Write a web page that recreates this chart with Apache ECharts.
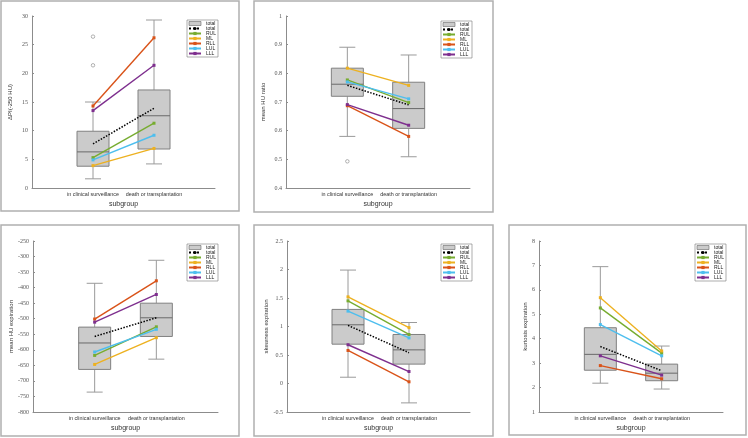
<!DOCTYPE html>
<html>
<head>
<meta charset="utf-8">
<script src="https://cdn.jsdelivr.net/npm/echarts@6/dist/echarts.min.js"></script>
<style>
  html, body { margin: 0; padding: 0; background: #fff; }
  #chart { width: 748px; height: 438px; }
</style>
</head>
<body>
<div id="chart"></div>
<script>
const categories = ['in clinical surveillance', 'death or transplantation'];
const lobes = ['RUL', 'ML', 'RLL', 'LUL', 'LLL'];
const lobeColors = ['#77ac30', '#edb120', '#d95319', '#4dbeee', '#7e2f8e'];

// box stats per group: [low whisker, Q1, median, Q3, high whisker]
const piBox = [[1.6, 3.8, 6.3, 9.9, 15.0], [4.2, 6.8, 12.6, 17.1, 29.3]];
const piOutliers = [26.4, 21.4];
const piTotal = [7.7, 13.9];
const piLobes = [[5.3, 11.3], [3.9, 6.9], [14.3, 26.2], [4.9, 9.2], [13.5, 21.4]];

const ratioBox = [[0.58, 0.72, 0.762, 0.818, 0.891], [0.509, 0.608, 0.677, 0.769, 0.864]];
const ratioOutliers = [0.493];
const ratioTotal = [0.758, 0.69];
const ratioLobes = [[0.777, 0.698], [0.818, 0.758], [0.687, 0.58], [0.77, 0.711], [0.691, 0.619]];

const huBox = [[-736, -663, -578, -527, -386], [-630, -557, -497, -450, -312]];
const huOutliers = [];
const huTotal = [-557, -497];
const huLobes = [[-618, -526], [-647, -561], [-501, -378], [-607, -534], [-511, -422]];

const skewBox = [[0.11, 0.69, 1.03, 1.30, 1.99], [-0.34, 0.34, 0.59, 0.86, 1.07]];
const skewOutliers = [];
const skewTotal = [1.02, 0.54];
const skewLobes = [[1.45, 0.86], [1.52, 0.98], [0.58, 0.03], [1.27, 0.80], [0.68, 0.21]];

const kurtBox = [[2.18, 2.71, 3.36, 4.45, 6.95], [1.94, 2.28, 2.59, 2.96, 3.70]];
const kurtOutliers = [];
const kurtTotal = [3.68, 2.69];
const kurtLobes = [[5.26, 3.41], [5.68, 3.50], [2.90, 2.36], [4.58, 3.30], [3.30, 2.51]];

const yTitles = ['ΔPI(-250 HU)', 'mean HU ratio', 'mean HU expiration', 'skewness expiration', 'kurtosis expiration'];
// [min, max, interval]
const yRanges = [[0, 30, 5], [0.4, 1, 0.1], [-800, -250, 50], [-0.5, 2.5, 0.5], [1, 8, 1]];

const boxes = [piBox, ratioBox, huBox, skewBox, kurtBox];
const outliers = [piOutliers, ratioOutliers, huOutliers, skewOutliers, kurtOutliers];
const totals = [piTotal, ratioTotal, huTotal, skewTotal, kurtTotal];
const lobeLines = [piLobes, ratioLobes, huLobes, skewLobes, kurtLobes];

// layout
const frames = [[1, 1, 238, 210], [254, 1, 239, 211], [1, 225, 238, 211], [254, 225, 239, 211], [509, 225, 237, 210]];
const grids = [[32, 16, 183, 172], [286, 16, 184, 172], [33, 241, 185, 171], [287, 241, 183, 171], [539, 241, 184, 171]];
const nameGaps = [19, 20, 15, 12, 7];
const legendPos = [[187, 20], [441, 21], [187, 244], [441, 244], [695, 244]];

const BOX_W = 32, CAP_W = 16;

function renderBox(params, api) {
  const x = api.value(0);
  const lo = api.coord([x, api.value(1)]);
  const q1 = api.coord([x, api.value(2)]);
  const md = api.coord([x, api.value(3)]);
  const q3 = api.coord([x, api.value(4)]);
  const hi = api.coord([x, api.value(5)]);
  const cx = lo[0];
  const wStyle = { stroke: '#9a9a9a', lineWidth: 1 };
  return {
    type: 'group',
    children: [
      { type: 'line', shape: { x1: cx, y1: hi[1], x2: cx, y2: q3[1] }, style: wStyle },
      { type: 'line', shape: { x1: cx, y1: q1[1], x2: cx, y2: lo[1] }, style: wStyle },
      { type: 'line', shape: { x1: cx - CAP_W / 2, y1: hi[1], x2: cx + CAP_W / 2, y2: hi[1] }, style: wStyle },
      { type: 'line', shape: { x1: cx - CAP_W / 2, y1: lo[1], x2: cx + CAP_W / 2, y2: lo[1] }, style: wStyle },
      { type: 'rect', shape: { x: cx - BOX_W / 2, y: q3[1], width: BOX_W, height: q1[1] - q3[1] },
        style: { fill: '#cbcbcb', stroke: '#808080', lineWidth: 1 } },
      { type: 'line', shape: { x1: cx - BOX_W / 2, y1: md[1], x2: cx + BOX_W / 2, y2: md[1] },
        style: { stroke: '#6a6a6a', lineWidth: 1 } }
    ]
  };
}

const option = {
  animation: false,
  graphic: frames.map(f => ({
    type: 'rect', shape: { x: f[0], y: f[1], width: f[2], height: f[3] },
    style: { fill: 'none', stroke: '#b0b0b0', lineWidth: 1.5 }, z: 0
  })),
  grid: grids.map(g => ({ left: g[0], top: g[1], width: g[2], height: g[3] })),
  xAxis: grids.map((g, i) => ({
    type: 'value', gridIndex: i, min: 0, max: 3, interval: 1,
    name: 'subgroup', nameLocation: 'middle', nameGap: 13,
    nameTextStyle: { fontFamily: 'Liberation Sans', fontSize: 7, color: '#333' },
    axisLine: { onZero: false, lineStyle: { color: '#8c8c8c', width: 1 } },
    axisTick: { show: false },
    splitLine: { show: false },
    axisLabel: {
      margin: 4, fontFamily: 'Liberation Sans', fontSize: 5.4, color: '#333',
      formatter: v => (v === 1 ? categories[0] : v === 2 ? categories[1] : '')
    }
  })),
  yAxis: yRanges.map((r, i) => ({
    type: 'value', gridIndex: i, min: r[0], max: r[1], interval: r[2],
    name: yTitles[i], nameLocation: 'middle', nameGap: nameGaps[i],
    nameTextStyle: { fontFamily: 'Liberation Sans', fontSize: 6, color: '#333' },
    axisLine: { show: true, lineStyle: { color: '#8c8c8c', width: 1 } },
    axisTick: { show: true, inside: true, length: 2, lineStyle: { color: '#8c8c8c' } },
    splitLine: { show: false },
    axisLabel: { margin: 4, fontFamily: 'Liberation Serif', fontSize: 6, color: '#555' }
  })),
  legend: legendPos.map(p => ({
    left: p[0], top: p[1], orient: 'vertical',
    itemWidth: 12, itemHeight: 4, itemGap: 0,
    padding: [1, 2, 1, 1],
    borderColor: '#777', borderWidth: 0.6, backgroundColor: '#fff',
    selectedMode: false, z: 10,
    textStyle: { fontFamily: 'Liberation Sans', fontSize: 5, lineHeight: 5, color: '#222' },
    formatter: name => (name === 'total line' ? 'total' : name),
    data: [
      { name: 'total', icon: 'rect', itemStyle: { color: '#cbcbcb', borderColor: '#666', borderWidth: 0.6 } },
      'total line', ...lobes
    ]
  })),
  series: []
};

boxes.forEach((box, i) => {
  option.series.push({
    type: 'custom', name: 'total', xAxisIndex: i, yAxisIndex: i,
    renderItem: renderBox, clip: false, z: 1,
    itemStyle: { color: '#cbcbcb', borderColor: '#666' },
    encode: { x: 0, y: [1, 2, 3, 4, 5] },
    data: box.map((b, k) => [k + 1, ...b])
  });
  if (outliers[i].length) {
    option.series.push({
      type: 'scatter', name: 'outlier', xAxisIndex: i, yAxisIndex: i, z: 2,
      symbol: 'circle', symbolSize: 3.5,
      itemStyle: { color: '#fff', borderColor: '#888', borderWidth: 0.8 },
      data: outliers[i].map(v => [1, v])
    });
  }
  option.series.push({
    type: 'line', name: 'total line', xAxisIndex: i, yAxisIndex: i, z: 4,
    showSymbol: false, symbol: 'none',
    lineStyle: { color: '#000', width: 1.5, type: 'dotted' },
    itemStyle: { color: '#000' },
    data: totals[i].map((v, k) => [k + 1, v])
  });
  lobeLines[i].forEach((vals, j) => {
    option.series.push({
      type: 'line', name: lobes[j], xAxisIndex: i, yAxisIndex: i, z: 5,
      symbol: 'rect', symbolSize: 3,
      lineStyle: { color: lobeColors[j], width: 1.4 },
      itemStyle: { color: lobeColors[j] },
      data: vals.map((v, k) => [k + 1, v])
    });
  });
});

const myChart = echarts.init(document.getElementById('chart'));
myChart.setOption(option);
window.addEventListener('resize', () => { myChart.resize(); });
</script>
</body>
</html>
